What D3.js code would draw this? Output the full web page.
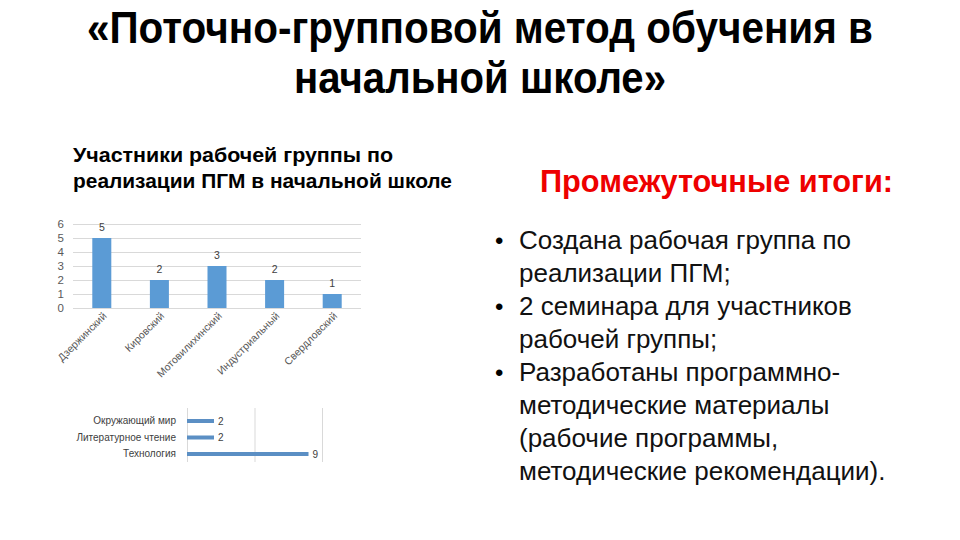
<!DOCTYPE html>
<html><head>
<meta charset="utf-8">
<title>Поточно-групповой метод обучения</title>
<script src="https://d3js.org/d3.v7.min.js"></script>
<style>
  body { margin: 0; background: #fff; }
  .gridlines line { stroke: #d9d9d9; }
  .gridlines .domain { stroke: none; }
  .axis text { fill: #595959; }
  .axis .domain, .axis line { stroke: none; }
</style>
</head>
<body>
<svg id="slide" width="960" height="540"></svg>
<script>
  // --- data
  const districts = ['Дзержинский', 'Кировский', 'Мотовилихинский', 'Индустриальный', 'Свердловский'];
  const members = [5, 2, 3, 2, 1];
  const yTicks = [0, 1, 2, 3, 4, 5, 6];

  const subjects = ['Окружающий мир', 'Литературное чтение', 'Технология'];
  const subjectCounts = [2, 2, 9];
  const xTicks = [0, 5, 10];

  const titleLines = ['«Поточно-групповой метод обучения в', 'начальной школе»'];
  const chartTitle = ['Участники рабочей группы по', 'реализации ПГМ в начальной школе'];
  const bullets = [
    ['Создана рабочая группа по', 'реализации ПГМ;'],
    ['2 семинара для участников', 'рабочей группы;'],
    ['Разработаны программно-', 'методические материалы', '(рабочие программы,', 'методические рекомендации).']
  ];

  const svg = d3.select('svg#slide');
  const sans = '"Liberation Sans", Arial, sans-serif';

  // title, squeezed to the narrow width seen on the slide
  const titleWidths = [786, 372];
  titleLines.forEach((t, i) => {
    svg.append('text')
       .attr('x', 480).attr('y', 43 + i * 50)
       .attr('text-anchor', 'middle')
       .attr('font-family', sans)
       .attr('font-weight', 'bold')
       .attr('font-size', 45)
       .attr('textLength', titleWidths[i])
       .attr('lengthAdjust', 'spacingAndGlyphs')
       .style('fill', '#000')
       .text(t);
  });

  const chartTitleWidths = [320, 379];
  chartTitle.forEach((t, i) => {
    svg.append('text')
       .attr('x', 73).attr('y', 162 + i * 26)
       .attr('font-family', sans)
       .attr('font-weight', 'bold')
       .attr('font-size', 20)
       .attr('textLength', chartTitleWidths[i])
       .attr('lengthAdjust', 'spacingAndGlyphs')
       .text(t);
  });

  svg.append('text')
     .attr('x', 540).attr('y', 192)
     .attr('font-family', sans)
     .attr('font-weight', 'bold')
     .attr('font-size', 32)
     .attr('textLength', 353)
     .attr('lengthAdjust', 'spacingAndGlyphs')
     .style('fill', '#ee0000')
     .text('Промежуточные итоги:');

  // bullet list
  let line = 0;
  bullets.forEach(b => {
    svg.append('text')
       .attr('x', 495).attr('y', 249 + line * 33)
       .attr('font-family', sans)
       .attr('font-size', 24)
       .text('•');
    b.forEach(t => {
      svg.append('text')
         .attr('x', 519).attr('y', 249 + line * 33)
         .attr('font-family', sans)
         .attr('font-size', 26)
         .style('fill', '#111')
         .text(t);
      line++;
    });
  });

  // --- vertical bar chart
  const xBand = d3.scaleBand().domain(districts).range([73, 361]).paddingInner(0.67).paddingOuter(0.335);
  const yLin = d3.scaleLinear().domain([0, 6]).range([308, 224]);

  svg.append('g')
     .attr('class', 'gridlines')
     .attr('transform', 'translate(73,0)')
     .call(d3.axisLeft(yLin).tickValues(yTicks).tickSize(-288).tickFormat(''));

  svg.append('g')
     .attr('class', 'axis')
     .attr('transform', 'translate(64,0)')
     .call(d3.axisLeft(yLin).tickValues(yTicks).tickFormat(d3.format('d')).tickSize(0).tickPadding(0))
     .selectAll('text')
     .attr('font-family', sans)
     .attr('font-size', 11.5);

  districts.forEach((d, i) => {
    svg.append('rect')
       .attr('x', xBand(d))
       .attr('y', yLin(members[i]))
       .attr('width', xBand.bandwidth())
       .attr('height', yLin(0) - yLin(members[i]))
       .style('fill', '#5b9bd5');
    svg.append('text')
       .attr('x', xBand(d) + xBand.bandwidth() / 2)
       .attr('y', yLin(members[i]) - 7)
       .attr('text-anchor', 'middle')
       .attr('font-family', sans)
       .attr('font-size', 10.5)
       .style('fill', '#404040')
       .text(members[i]);
  });

  const xAxis = svg.append('g')
     .attr('class', 'axis')
     .attr('transform', 'translate(0,308)')
     .call(d3.axisBottom(xBand).tickSize(0).tickPadding(0));
  xAxis.selectAll('text')
     .attr('font-family', sans)
     .attr('font-size', 10.5)
     .attr('text-anchor', 'end')
     .attr('dy', '0.35em')
     .attr('transform', 'translate(3,6) rotate(-45)');

  // --- horizontal bar chart
  const xLin = d3.scaleLinear().domain([0, 10]).range([187, 322]);
  const yBand = d3.scaleBand().domain(subjects).range([412.75, 462.25]);

  svg.append('g')
     .attr('class', 'gridlines')
     .attr('transform', 'translate(0,462)')
     .call(d3.axisBottom(xLin).tickValues(xTicks).tickSize(-54).tickFormat(''));

  svg.append('g')
     .attr('class', 'axis')
     .attr('transform', 'translate(176,0)')
     .call(d3.axisLeft(yBand).tickSize(0).tickPadding(0))
     .selectAll('text')
     .attr('font-family', sans)
     .attr('font-size', 10)
     .style('fill', '#404040');

  subjects.forEach((s, i) => {
    const cy = yBand(s) + yBand.bandwidth() / 2;
    svg.append('rect')
       .attr('x', xLin(0))
       .attr('y', cy - 2)
       .attr('width', xLin(subjectCounts[i]) - xLin(0))
       .attr('height', 4)
       .style('fill', '#5b8fc4');
    svg.append('text')
       .attr('x', xLin(subjectCounts[i]) + 4)
       .attr('y', cy)
       .attr('dy', '0.35em')
       .attr('font-family', sans)
       .attr('font-size', 10)
       .style('fill', '#404040')
       .text(subjectCounts[i]);
  });
</script>
</body>
</html>
